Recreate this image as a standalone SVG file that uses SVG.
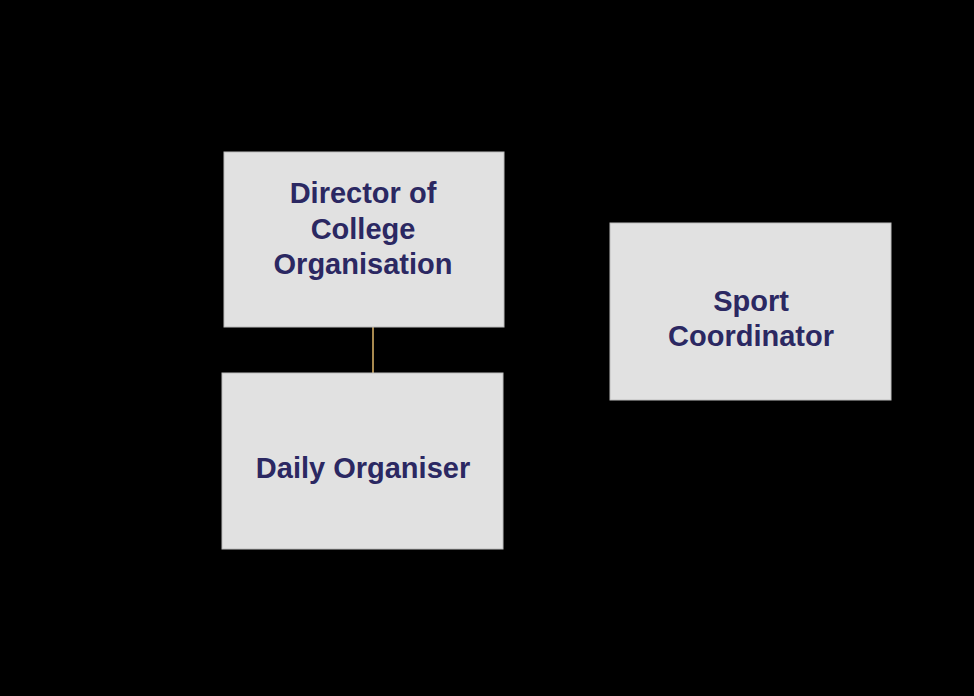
<svg xmlns="http://www.w3.org/2000/svg" width="974" height="696" viewBox="0 0 974 696">
<style>
.box{fill:#e1e1e1;stroke:#bdbdbd;stroke-width:1}
.t{font-family:"Liberation Sans",Arial,sans-serif;font-weight:bold;font-size:29px;fill:#2b2862;text-anchor:middle}
.c{stroke:#a8894f;stroke-width:2;fill:none}
</style>
<rect width="974" height="696" fill="#000"/>
<g id="connectors">
<line class="c" x1="373" y1="327" x2="373" y2="373"/>
</g>
<g id="director">
<rect class="box" x="224" y="152" width="280" height="175"/>
<text class="t" x="363" y="203">Director of</text>
<text class="t" x="363" y="239">College</text>
<text class="t" x="363" y="274">Organisation</text>
</g>
<g id="daily">
<rect class="box" x="222" y="373" width="281" height="176"/>
<text class="t" x="363" y="478">Daily Organiser</text>
</g>
<g id="sport">
<rect class="box" x="610" y="223" width="281" height="177"/>
<text class="t" x="751" y="311">Sport</text>
<text class="t" x="751" y="346">Coordinator</text>
</g>
</svg>
